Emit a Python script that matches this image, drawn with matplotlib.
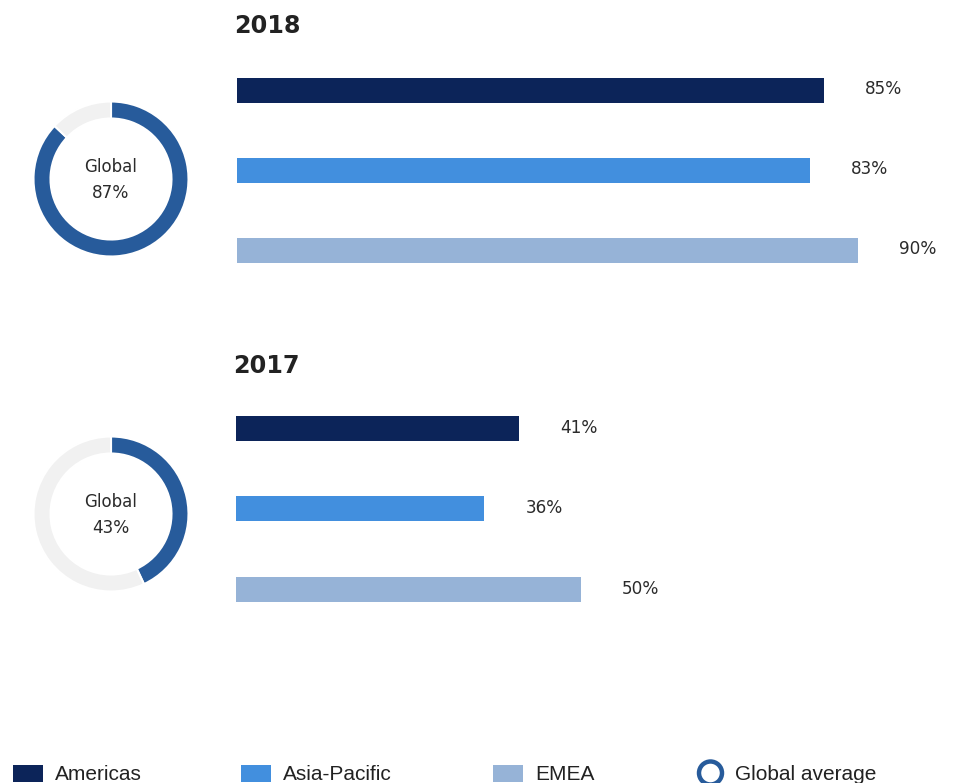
import matplotlib
matplotlib.use("Agg")
import matplotlib.pyplot as plt
from matplotlib.patches import Rectangle, Circle

# ---- data ----
years = ["2018", "2017"]
regions = ["Americas", "Asia-Pacific", "EMEA"]
values_2018 = [85, 83, 90]
values_2017 = [41, 36, 50]
global_avg = [87, 43]
legend_labels = ["Americas", "Asia-Pacific", "EMEA", "Global average"]

bar_colors = ["#0C2459", "#428FDE", "#96B3D7"]
donut_color = "#275B9B"
donut_rest = "#F1F1F1"
text_color = "#2B2B2B"

W, H = 956, 783
fig = plt.figure(figsize=(W / 100, H / 100), dpi=100)
fig.patch.set_facecolor("white")

def px_axes(left, top, width, height):
    return fig.add_axes([left / W, 1 - (top + height) / H, width / W, height / H])

FONT = ["DejaVu Sans"]

# panel layout (pixels)
panels = [
    dict(vals=values_2018, g=global_avg[0], year=years[0], bar_left=237, bar_top=50, slot=80,
         title_base=33, dcx=111, dcy=179),
    dict(vals=values_2017, g=global_avg[1], year=years[1], bar_left=236, bar_top=388, slot=80.5,
         title_base=373, dcx=111, dcy=514),
]

px_per_pct = 6.9

for p in panels:
    # bars
    width_px = 100 * px_per_pct
    ax = px_axes(p["bar_left"], p["bar_top"], width_px, 3 * p["slot"])
    ypos = list(range(len(regions)))
    ax.barh(ypos, p["vals"], height=25 / p["slot"], color=bar_colors, edgecolor="none")
    ax.set_xlim(0, 100)
    ax.set_ylim(2.5, -0.5)
    ax.axis("off")
    for y, v in zip(ypos, p["vals"]):
        ax.annotate(f"{v}%", xy=(v, y), xytext=(29.5, -3.2), textcoords="offset points",
                    ha="left", va="baseline", fontsize=12.2, color=text_color, family=FONT)

    # title
    fig.text((p["bar_left"] - 3) / W, 1 - p["title_base"] / H, p["year"], ha="left",
             va="baseline", fontsize=17.2, fontweight="bold", color="#222222", family=FONT)

    # donut
    dax = px_axes(p["dcx"] - 80, p["dcy"] - 80, 160, 160)
    dax.pie([p["g"], 100 - p["g"]], radius=77.5 / 80, startangle=90, counterclock=False,
            colors=[donut_color, donut_rest],
            wedgeprops=dict(width=17 / 80, edgecolor="white", linewidth=1.5))
    dax.set_xlim(-1, 1)
    dax.set_ylim(-1, 1)
    dax.set_aspect("equal")
    dax.axis("off")
    dax.text(0, 0.09, "Global", ha="center", va="baseline", fontsize=12, color=text_color,
             family=FONT)
    dax.text(0, -0.24, f"{p['g']}%", ha="center", va="baseline", fontsize=12.2,
             color=text_color, family=FONT)

# ---- legend (pixel overlay) ----
lax = fig.add_axes([0, 0, 1, 1], zorder=-1)
lax.set_xlim(0, W)
lax.set_ylim(H, 0)
lax.axis("off")
LFONT = ["Liberation Sans", "DejaVu Sans"]
sq_x = [13, 241, 493]
txt_x = [55, 283, 535, 735]
for sx, c in zip(sq_x, bar_colors):
    lax.add_patch(Rectangle((sx, 765), 30, 17, facecolor=c, edgecolor="none"))
lax.add_patch(Circle((710.5, 773), 11.5, facecolor="white", edgecolor=donut_color, linewidth=3.2))
for tx, lab in zip(txt_x, legend_labels):
    lax.text(tx, 780.5, lab, ha="left", va="baseline", fontsize=15, color="#222222",
             family=LFONT)

fig.savefig("out.png", dpi=100, facecolor="white")
